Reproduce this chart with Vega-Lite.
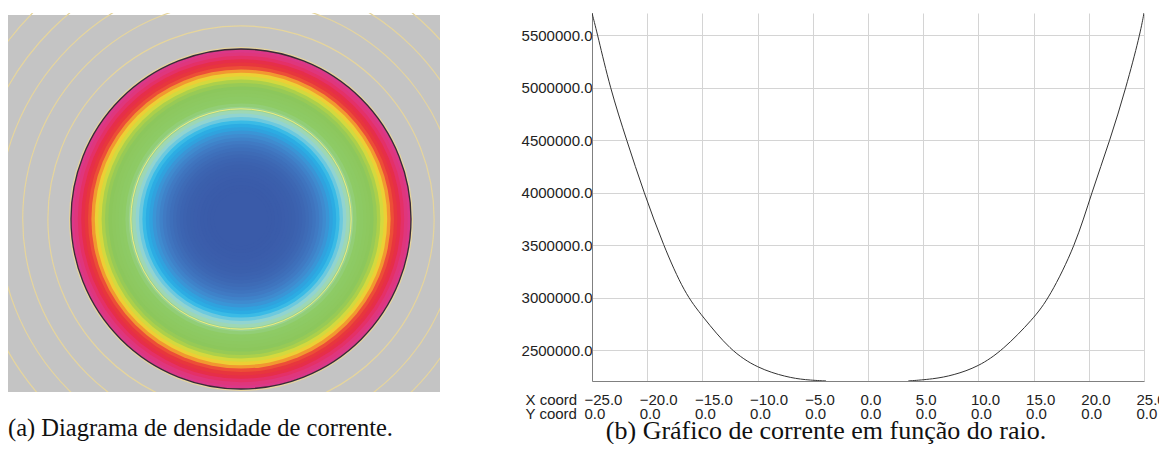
{
  "$schema": "https://vega.github.io/schema/vega-lite/v6.json",
  "padding": {"left": 8, "top": 13, "right": 0, "bottom": 0},
  "background": "white",
  "config": {
    "view": {"stroke": null},
    "title": {"font": "Liberation Serif", "fontWeight": "normal", "color": "#111111"}
  },
  "spacing": 152,
  "bounds": "flush",
  "hconcat": [
    {
      "width": 432,
      "height": 379,
      "title": {"text": "(a) Diagrama de densidade de corrente.", "orient": "bottom", "anchor": "start", "offset": 25, "fontSize": 24.5},
      "layer": [
        {
          "data": {"values": [{"x1": -34.265, "x2": 29.265, "y1": -25.44, "y2": 30.0}]},
          "mark": {"type": "rect", "color": "#c4c4c4"},
          "encoding": {
            "x": {"field": "x1", "type": "quantitative", "scale": {"domain": [-34.265, 29.265], "nice": false, "zero": false}, "axis": null},
            "x2": {"field": "x2"},
            "y": {"field": "y1", "type": "quantitative", "scale": {"domain": [-25.44, 30.29], "nice": false, "zero": false}, "axis": null},
            "y2": {"field": "y2"}
          }
        },
        {
          "data": {"values": [
            {"r": 25.0, "j": 5600000}, {"r": 24.5, "j": 5370000}, {"r": 24.0, "j": 5150000},
            {"r": 23.5, "j": 4960000}, {"r": 23.0, "j": 4790000}, {"r": 22.5, "j": 4620000},
            {"r": 22.0, "j": 4450000}, {"r": 21.5, "j": 4300000}, {"r": 21.0, "j": 4150000},
            {"r": 20.5, "j": 4010000}, {"r": 20.0, "j": 3820000}, {"r": 19.5, "j": 3680000},
            {"r": 19.0, "j": 3540000}, {"r": 18.5, "j": 3380000}, {"r": 18.0, "j": 3250000},
            {"r": 17.5, "j": 3150000}, {"r": 17.0, "j": 3050000}, {"r": 16.5, "j": 2960000},
            {"r": 16.0, "j": 2900000}, {"r": 15.5, "j": 2830000}, {"r": 15.0, "j": 2760000},
            {"r": 14.5, "j": 2690000}, {"r": 14.0, "j": 2620000}, {"r": 13.5, "j": 2575000},
            {"r": 13.0, "j": 2525000}, {"r": 12.5, "j": 2480000}, {"r": 12.0, "j": 2440000},
            {"r": 11.5, "j": 2405000}, {"r": 11.0, "j": 2375000}, {"r": 10.5, "j": 2350000},
            {"r": 10.0, "j": 2325000}, {"r": 9.5, "j": 2305000}, {"r": 9.0, "j": 2285000},
            {"r": 8.5, "j": 2265000}, {"r": 8.0, "j": 2250000}, {"r": 7.5, "j": 2242000},
            {"r": 7.0, "j": 2234000}, {"r": 6.5, "j": 2226000}, {"r": 6.0, "j": 2219000},
            {"r": 5.5, "j": 2215000}, {"r": 5.0, "j": 2212000}, {"r": 4.5, "j": 2210000},
            {"r": 4.0, "j": 2208000}
          ]},
          "mark": {"type": "arc", "theta": 0, "theta2": 6.2832, "clip": true},
          "encoding": {
            "x": {"datum": 0, "type": "quantitative"},
            "y": {"datum": 0, "type": "quantitative"},
            "radius": {"field": "r", "type": "quantitative", "stack": null, "scale": {"type": "linear", "domain": [0, 25], "range": [0, 170], "zero": true}},
            "color": {
              "field": "j", "type": "quantitative", "legend": null,
              "scale": {
                "domain": [2208000, 2300000, 2400000, 2500000, 2600000, 2700000, 2800000, 2870000, 2950000, 3100000, 3700000, 4000000, 4200000, 4350000, 4480000, 4650000, 4900000, 5250000, 5710000],
                "range": ["#3a5ba9", "#3d66b2", "#4079c2", "#3f8fd2", "#2aa8e2", "#3cbde6", "#86d0dc", "#a6d8c4", "#9dd394", "#8ecb66", "#8cc75c", "#a9cf4c", "#e3dc3a", "#f2c834", "#f08a32", "#ea3e3a", "#e5303f", "#e13576", "#d83a8e"]
              }
            }
          }
        },
        {
          "data": {"values": [{"r": 16.2}]},
          "mark": {"type": "arc", "theta": 0, "theta2": 6.2832, "filled": false, "stroke": "#ecec80", "strokeWidth": 1, "clip": true},
          "encoding": {
            "x": {"datum": 0, "type": "quantitative"},
            "y": {"datum": 0, "type": "quantitative"},
            "radius": {"field": "r", "type": "quantitative", "stack": null, "scale": {"type": "linear", "domain": [0, 25], "range": [0, 170], "zero": true}}
          }
        },
        {
          "data": {"values": [{"r": 25.2}, {"r": 28.4}, {"r": 32.1}, {"r": 35.7}, {"r": 39.4}, {"r": 43.1}]},
          "mark": {"type": "arc", "theta": 0, "theta2": 6.2832, "filled": false, "stroke": "#e6d59c", "strokeWidth": 1.2, "clip": true},
          "encoding": {
            "x": {"datum": 0, "type": "quantitative"},
            "y": {"datum": 0, "type": "quantitative"},
            "radius": {"field": "r", "type": "quantitative", "stack": null, "scale": {"type": "linear", "domain": [0, 25], "range": [0, 170], "zero": true}}
          }
        },
        {
          "data": {"values": [{"r": 25.0}]},
          "mark": {"type": "arc", "theta": 0, "theta2": 6.2832, "filled": false, "stroke": "#3a2b34", "strokeWidth": 1.3, "clip": true},
          "encoding": {
            "x": {"datum": 0, "type": "quantitative"},
            "y": {"datum": 0, "type": "quantitative"},
            "radius": {"field": "r", "type": "quantitative", "stack": null, "scale": {"type": "linear", "domain": [0, 25], "range": [0, 170], "zero": true}}
          }
        }
      ]
    },
    {
      "width": 552,
      "height": 368,
      "title": {"text": "(b) Gráfico de corrente em função do raio.", "orient": "bottom", "anchor": "middle", "dx": -42, "offset": -3, "fontSize": 26},
      "data": {"values": [
        {"ramo": "esq", "raio": -25.0, "corrente": 5712400},
        {"ramo": "esq", "raio": -24.48, "corrente": 5500000},
        {"ramo": "esq", "raio": -23.37, "corrente": 5000000},
        {"ramo": "esq", "raio": -21.86, "corrente": 4500000},
        {"ramo": "esq", "raio": -20.29, "corrente": 4000000},
        {"ramo": "esq", "raio": -18.54, "corrente": 3500000},
        {"ramo": "esq", "raio": -16.6, "corrente": 3040000},
        {"ramo": "esq", "raio": -15.0, "corrente": 2825000},
        {"ramo": "esq", "raio": -12.5, "corrente": 2500000},
        {"ramo": "esq", "raio": -10.0, "corrente": 2329000},
        {"ramo": "esq", "raio": -7.4, "corrente": 2245000},
        {"ramo": "esq", "raio": -5.7, "corrente": 2218000},
        {"ramo": "esq", "raio": -3.8, "corrente": 2208000},
        {"ramo": "dir", "raio": 3.65, "corrente": 2208000},
        {"ramo": "dir", "raio": 5.92, "corrente": 2226000},
        {"ramo": "dir", "raio": 7.73, "corrente": 2262000},
        {"ramo": "dir", "raio": 10.0, "corrente": 2344000},
        {"ramo": "dir", "raio": 12.2, "corrente": 2500000},
        {"ramo": "dir", "raio": 14.97, "corrente": 2800000},
        {"ramo": "dir", "raio": 16.42, "corrente": 3000000},
        {"ramo": "dir", "raio": 18.8, "corrente": 3500000},
        {"ramo": "dir", "raio": 20.25, "corrente": 4000000},
        {"ramo": "dir", "raio": 21.92, "corrente": 4500000},
        {"ramo": "dir", "raio": 23.37, "corrente": 5000000},
        {"ramo": "dir", "raio": 24.62, "corrente": 5500000},
        {"ramo": "dir", "raio": 25.0, "corrente": 5712400}
      ]},
      "mark": {"type": "line", "interpolate": "basis", "stroke": "#333333", "strokeWidth": 1, "clip": true},
      "encoding": {
        "x": {
          "field": "raio", "type": "quantitative",
          "scale": {"domain": [-25, 25], "nice": false, "zero": false},
          "axis": {
            "values": [-25, -20, -15, -10, -5, 0, 5, 10, 15, 20, 25],
            "grid": true, "gridColor": "#d4d4d4", "gridWidth": 1,
            "ticks": false, "tickSize": 0,
            "domainColor": "#808080",
            "labelExpr": "[format(datum.value, '.1f'), '0.0']",
            "labelAlign": "left", "labelOffset": -8, "labelBaseline": "top", "labelPadding": 11,
            "labelFont": "Liberation Sans", "labelFontSize": 15, "labelColor": "#222222", "labelLineHeight": 14,
            "labelOverlap": false, "labelBound": false, "labelFlush": false,
            "title": ["X coord", "Y coord"],
            "titleX": -67, "titleY": 11, "titleAlign": "left", "titleBaseline": "top", "titleAngle": 0,
            "titleFont": "Liberation Sans", "titleFontSize": 15, "titleFontWeight": "normal", "titleLineHeight": 14, "titleColor": "#222222"
          }
        },
        "y": {
          "field": "corrente", "type": "quantitative",
          "scale": {"domain": [2207600, 5712400], "nice": false, "zero": false},
          "axis": {
            "values": [2500000, 3000000, 3500000, 4000000, 4500000, 5000000, 5500000],
            "grid": true, "gridColor": "#d4d4d4", "gridWidth": 1,
            "ticks": false, "tickSize": 0,
            "domainColor": "#808080",
            "labelExpr": "format(datum.value, '.1f')",
            "labelPadding": 0,
            "labelFont": "Liberation Sans", "labelFontSize": 15, "labelColor": "#222222",
            "title": null
          }
        },
        "detail": {"field": "ramo"}
      }
    }
  ]
}
